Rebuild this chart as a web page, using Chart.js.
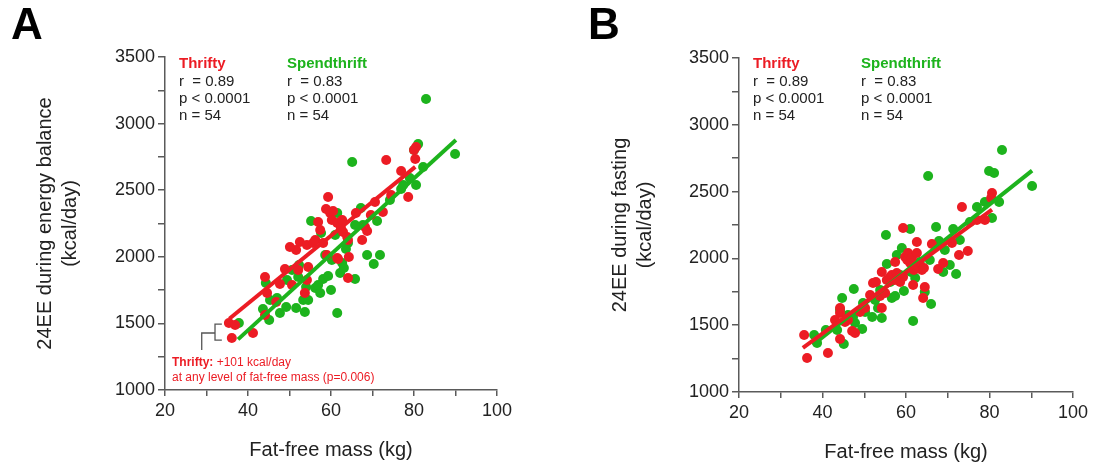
<!DOCTYPE html>
<html>
<head>
<meta charset="utf-8">
<script src="https://cdn.jsdelivr.net/npm/chart.js@4.4.1/dist/chart.umd.min.js"></script>
<style>
  html, body { margin: 0; padding: 0; background: #fff; }
  #wrap { position: relative; width: 1097px; height: 472px; }
  canvas { position: absolute; top: 0; }
</style>
</head>
<body>
<div id="wrap">
  <canvas id="chartA" width="548" height="472" style="left:0;width:548px;height:472px"></canvas>
  <canvas id="chartB" width="549" height="472" style="left:548px;width:549px;height:472px"></canvas>
</div>
<script>
// tick labels
const xTickLabels = [20, 40, 60, 80, 100];
const yTickLabels = [1000, 1500, 2000, 2500, 3000, 3500];

// Panel A: 24EE during energy balance
const thriftyA_ffm = [35.4, 36.1, 41.2, 44.1, 44.1, 44.6, 46.8, 47.7, 48.9, 50.6,
  52.1, 52.5, 53.7, 54.2, 54.5, 54.2, 55.7, 56.2, 56.9, 58.1,
  59.0, 59.3, 59.8, 60.2, 61.5, 61.7, 62.7, 62.9, 63.9, 64.1,
  64.3, 64.1, 66.0, 67.5, 68.2, 68.7, 72.5, 70.6, 73.3, 76.9,
  80.3, 80.5, 80.0, 78.6, 74.5, 60.5, 61.5, 62.4, 51.6, 36.9,
  57.4, 58.8, 69.6, 50.1];
const thriftyA_ee = [1503, 1390, 1428, 1848, 1563, 1728, 1661, 1796, 1908, 1788,
  1901, 2111, 1728, 1826, 1923, 2089, 2104, 2126, 2261, 2104,
  2014, 2449, 2329, 2276, 2254, 1984, 2276, 2186, 2149, 2126,
  1999, 1841, 2329, 2126, 2224, 2194, 2336, 2412, 2727, 2644,
  2734, 2824, 2802, 2449, 2464, 2344, 1991, 2216, 2051, 1488,
  2201, 2359, 2314, 2074];
const spendA_ffm = [37.8, 43.6, 44.3, 45.1, 47.0, 47.7, 49.2, 49.4, 51.6, 52.1,
  52.3, 53.3, 53.7, 54.0, 55.2, 56.2, 57.4, 57.6, 58.1, 59.3,
  60.2, 61.0, 61.5, 61.5, 62.2, 62.7, 63.6, 64.1, 65.8, 67.2,
  68.7, 70.3, 71.8, 71.1, 82.9, 65.1, 81.0, 80.0, 89.9, 82.2,
  79.0, 80.5, 76.9, 67.7, 60.0, 63.1, 56.9, 58.6, 50.6, 54.5,
  65.8, 74.2, 77.4, 45.3];
const spendA_ee = [1503, 1608, 1803, 1526, 1691, 1578, 1623, 1826, 1616, 1848,
  1939, 1676, 1586, 1773, 2269, 1766, 1728, 2179, 1833, 1856,
  1976, 2164, 2329, 1578, 1878, 1953, 2059, 2104, 1833, 2366,
  2014, 1946, 2014, 2269, 3185, 2712, 2847, 2802, 2772, 2674,
  2592, 2539, 2509, 2239, 1751, 1916, 1788, 2014, 1901, 1676,
  2239, 2427, 2539, 1676];
// regression line end points
const thriftyA_fitX = [35.5, 80.3], thriftyA_fitY = [1535, 2675];
const spendA_fitX = [37.6, 90.1], spendA_fitY = [1380, 2877];

// Panel B: 24EE during fasting
const thriftyB_ffm = [35.6, 36.3, 41.3, 44.2, 44.2, 44.2, 45.4, 47.1, 47.8, 49.0,
  50.2, 52.1, 52.8, 53.8, 54.2, 54.2, 55.4, 56.2, 56.6, 57.3,
  57.8, 58.6, 59.3, 59.8, 60.3, 60.5, 61.7, 61.4, 62.6, 62.6,
  63.3, 63.8, 64.3, 64.1, 64.5, 66.2, 67.7, 68.9, 71.0, 72.7,
  74.8, 73.4, 77.0, 78.9, 80.6, 80.4, 61.0, 59.3, 46.1, 51.4,
  55.0, 57.4, 61.9, 43.0];
const thriftyB_ee = [1427, 1254, 1292, 1629, 1591, 1397, 1524, 1457, 1442, 1599,
  1629, 1816, 1823, 1719, 1629, 1898, 1838, 1861, 1876, 1838,
  1891, 1823, 2228, 2010, 1988, 2040, 1801, 2003, 2040, 2123,
  1951, 1913, 1928, 1704, 1786, 2108, 1921, 1966, 2115, 2025,
  2055, 2385, 2287, 2287, 2490, 2452, 1966, 1861, 1539, 1726,
  1741, 1973, 1913, 1539];
const spendB_ffm = [38.0, 38.7, 43.5, 44.7, 45.1, 47.3, 47.5, 47.8, 49.5, 49.7,
  51.9, 52.6, 53.3, 54.2, 55.2, 55.4, 56.6, 57.4, 57.8, 59.0,
  59.5, 61.0, 61.7, 61.2, 62.2, 64.5, 66.0, 67.2, 67.9, 68.9,
  70.5, 71.3, 72.0, 77.0, 80.6, 82.3, 83.0, 65.3, 79.9, 81.1,
  90.2, 75.3, 44.2, 50.2, 53.8, 58.6, 63.3, 69.3, 72.9, 40.8,
  46.1, 56.2, 65.7, 78.9];
const spendB_ee = [1427, 1367, 1464, 1704, 1359, 1561, 1771, 1516, 1472, 1666,
  1561, 1689, 1629, 1554, 2175, 1958, 1704, 1719, 2025, 2078,
  1756, 2220, 1531, 1898, 1853, 1749, 1659, 2235, 2130, 1898,
  1951, 2220, 1883, 2385, 2302, 2422, 2811, 2617, 2654, 2639,
  2542, 2272, 1614, 1599, 1763, 1876, 1973, 2063, 2138, 1464,
  1576, 1823, 1988, 2422];
const thriftyB_fitX = [35.3, 80.6], thriftyB_fitY = [1330, 2365];
const spendB_fitX = [37.7, 90.2], spendB_fitY = [1352, 2657];

// stats text
const groupNames = ['Thrifty', 'Spendthrift'];
const statsA = [['r  = 0.89', 'p < 0.0001', 'n = 54'], ['r  = 0.83', 'p < 0.0001', 'n = 54']];
const statsB = [['r  = 0.89', 'p < 0.0001', 'n = 54'], ['r  = 0.83', 'p < 0.0001', 'n = 54']];

// bracket in panel A (data units)
const bracketX = [28.85, 32.05, 33.7];
const bracketY = [1300, 1428, 1495, 1375];

const RED = '#ec1c24';
const GREEN = '#1db31d';
const AXIS = '#5a5a5a';
const FONT = "'Liberation Sans', Arial, sans-serif";

function pts(xs, ys) { return xs.map((x, i) => ({ x: x, y: ys[i] })); }

const textPlugin = {
  id: 'panelText',
  afterDraw(chart, args, o) {
    const ctx = chart.ctx, a = chart.chartArea;
    ctx.save();
    ctx.textBaseline = 'middle';
    ctx.textAlign = 'left';
    ctx.fillStyle = '#000';
    ctx.font = 'bold 44px ' + FONT;
    ctx.fillText(o.letter, o.letterX, 27);
    const cols = [a.left + 14, a.left + 122];
    const colors = [RED, GREEN];
    for (let c = 0; c < 2; c++) {
      ctx.font = 'bold 15px ' + FONT;
      ctx.fillStyle = colors[c];
      ctx.fillText(groupNames[c], cols[c], 64);
      ctx.font = '15px ' + FONT;
      ctx.fillStyle = '#222';
      o.stats[c].forEach((s, i) => ctx.fillText(s, cols[c], 82 + i * 17));
    }
    if (o.bracket) {
      const xs = chart.scales.x, ys = chart.scales.y;
      const px = bracketX.map(v => xs.getPixelForValue(v));
      const py = bracketY.map(v => ys.getPixelForValue(v));
      ctx.strokeStyle = '#555';
      ctx.lineWidth = 1.3;
      ctx.beginPath();
      ctx.moveTo(px[2], py[2]); ctx.lineTo(px[1], py[2]);
      ctx.lineTo(px[1], py[3]); ctx.lineTo(px[2], py[3]);
      ctx.moveTo(px[1], py[1]); ctx.lineTo(px[0], py[1]); ctx.lineTo(px[0], py[0]);
      ctx.stroke();
      ctx.fillStyle = RED;
      ctx.font = 'bold 12px ' + FONT;
      const lx = a.left + 7;
      ctx.fillText('Thrifty:', lx, 363);
      const w = ctx.measureText('Thrifty: ').width;
      ctx.font = '12px ' + FONT;
      ctx.fillText('+101 kcal/day', lx + w, 363);
      ctx.fillText('at any level of fat-free mass (p=0.006)', lx, 378);
    }
    ctx.restore();
  }
};

function makeChart(id, d, o) {
  return new Chart(document.getElementById(id), {
    type: 'scatter',
    data: {
      datasets: [
        { type: 'line', data: pts(d.rfx, d.rfy), borderColor: RED, borderWidth: 4, pointRadius: 0, order: 0, borderCapStyle: 'butt' },
        { type: 'line', data: pts(d.gfx, d.gfy), borderColor: GREEN, borderWidth: 4, pointRadius: 0, order: 1, borderCapStyle: 'butt' },
        { data: pts(d.rx, d.ry), backgroundColor: RED, borderWidth: 0, pointRadius: 5, order: 2 },
        { data: pts(d.gx, d.gy), backgroundColor: GREEN, borderWidth: 0, pointRadius: 5, order: 3 }
      ]
    },
    options: {
      responsive: false,
      animation: false,
      layout: { padding: { left: 0, top: o.top, right: o.right, bottom: 0 } },
      plugins: {
        legend: { display: false },
        tooltip: { enabled: false },
        panelText: { letter: o.letter, letterX: o.letterX, stats: o.stats, bracket: o.bracket }
      },
      scales: {
        x: {
          type: 'linear', min: 20, max: 100,
          afterFit: s => { s.height = o.xh; },
          ticks: {
            stepSize: 10, autoSkip: false, maxRotation: 0, padding: 4,
            color: '#222', font: { family: FONT, size: 18 },
            callback: v => xTickLabels.includes(v) ? String(v) : ''
          },
          grid: { drawOnChartArea: false, tickLength: 6, color: AXIS, lineWidth: 1.5 },
          border: { color: AXIS, width: 1.5 },
          title: { display: true, text: 'Fat-free mass (kg)', color: '#222',
            font: { family: FONT, size: 20 }, padding: { bottom: o.xtPad, top: 0 } }
        },
        y: {
          type: 'linear', min: 1000, max: 3500,
          afterFit: s => { s.width = o.yw; },
          ticks: {
            stepSize: 250, autoSkip: false, padding: 3,
            color: '#222', font: { family: FONT, size: 18 },
            callback: v => yTickLabels.includes(v) ? String(v) : ''
          },
          grid: { drawOnChartArea: false, tickLength: 7, color: AXIS, lineWidth: 1.5 },
          border: { color: AXIS, width: 1.5 },
          title: { display: true, text: o.ytitle, color: '#222',
            font: { family: FONT, size: 20, lineHeight: 1.25 }, padding: { top: o.ytPad, bottom: 0 } }
        }
      }
    },
    plugins: [textPlugin]
  });
}

makeChart('chartA',
  { rx: thriftyA_ffm, ry: thriftyA_ee, gx: spendA_ffm, gy: spendA_ee,
    rfx: thriftyA_fitX, rfy: thriftyA_fitY, gfx: spendA_fitX, gfy: spendA_fitY },
  { top: 57, right: 51, xh: 82, yw: 165, xtPad: 10, ytPad: 33,
    ytitle: ['24EE during energy balance', '(kcal/day)'],
    letter: 'A', letterX: 11, stats: statsA, bracket: true });

makeChart('chartB',
  { rx: thriftyB_ffm, ry: thriftyB_ee, gx: spendB_ffm, gy: spendB_ee,
    rfx: thriftyB_fitX, rfy: thriftyB_fitY, gfx: spendB_fitX, gfy: spendB_fitY },
  { top: 58, right: 24, xh: 80, yw: 191, xtPad: 8, ytPad: 60,
    ytitle: ['24EE during fasting', '(kcal/day)'],
    letter: 'B', letterX: 40, stats: statsB, bracket: false });
</script>
</body>
</html>
